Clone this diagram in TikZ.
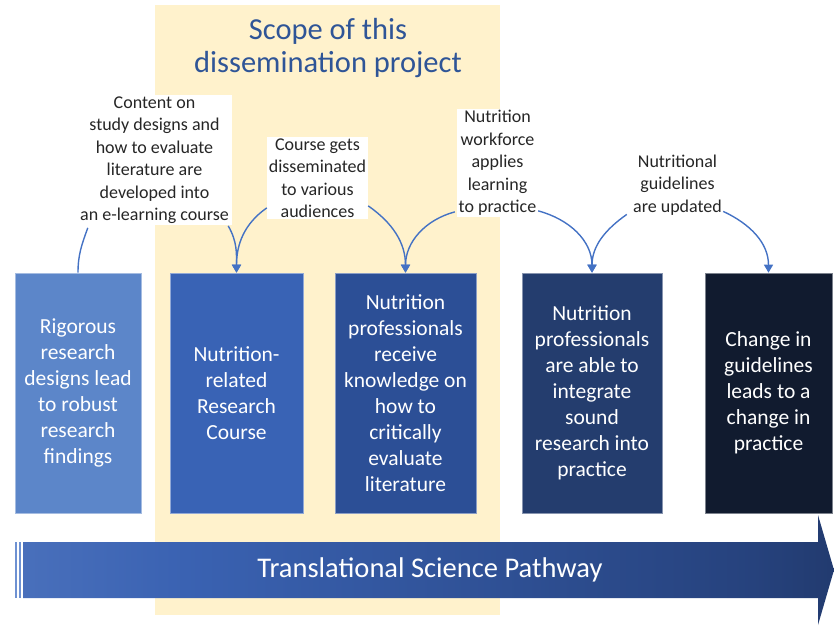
\documentclass[tikz,border=0pt]{standalone}
\usepackage{fontspec}
\setmainfont{Carlito}
\usetikzlibrary{arrows.meta}
\definecolor{scopey}{HTML}{FFF2CC}
\definecolor{titleblue}{HTML}{2F5597}
\definecolor{arrowblue}{HTML}{4472C4}
\definecolor{bA}{RGB}{92,134,201}
\definecolor{bB}{RGB}{57,99,181}
\definecolor{bC}{RGB}{44,79,150}
\definecolor{bD}{RGB}{36,61,110}
\definecolor{bE}{RGB}{17,27,47}
\definecolor{gA}{RGB}{110,145,210}
\definecolor{gB}{RGB}{58,98,178}
\definecolor{gC}{RGB}{38,66,125}
\definecolor{gD}{RGB}{14,23,42}
\pgfdeclarehorizontalshading{bannershade}{100bp}{color(0bp)=(gA); color(35bp)=(gB); color(70bp)=(gC); color(100bp)=(gD)}
\tikzset{
  stagebox/.style={minimum width=127pt, minimum height=240pt, inner sep=0pt, align=center, text=white,
    font=\fontsize{21.5}{26}\selectfont, line width=0.6pt},
  callout/.style={fill=white, align=center, inner sep=1pt, text=black!85,
    font=\fontsize{18}{22.5}\selectfont},
  link/.style={draw=arrowblue, line width=1.4pt},
  linkarrow/.style={link, -{Triangle[length=8pt,width=9pt]}}
}
\begin{document}
\begin{tikzpicture}[x=1pt,y=1pt]
\useasboundingbox (0,0) rectangle (834,-625);
% scope background
\fill[scopey] (155,-5) rectangle (500,-615);
\node[text=titleblue, align=center, font=\fontsize{30.5}{33}\selectfont] (title) at (328,-48) {Scope of this\\dissemination project};
% banner
\fill[gA] (15,-542) rectangle (17,-598);
\fill[gA] (19,-542) rectangle (21,-598);
\path[shading=bannershade] (23,-542) -- (818,-542) -- (818,-515) -- (834,-570) -- (818,-625) -- (818,-598) -- (23,-598) -- cycle;
\node[text=white, font=\fontsize{28.5}{32}\selectfont] (banner) at (430,-570) {Translational Science Pathway};
% boxes
\node[stagebox, fill=bA, draw=white!45!bA, minimum width=126pt] (b1) at (78,-393) {Rigorous\\research\\designs lead\\to robust\\research\\findings};
\node[stagebox, fill=bB, draw=white!45!bB, minimum width=133pt] (b2) at (236.5,-393) {Nutrition-\\related\\Research\\Course};
\node[stagebox, fill=bC, draw=white!45!bC, minimum width=141pt] (b3) at (405.5,-393) {Nutrition\\professionals\\receive\\knowledge on\\how to\\critically\\evaluate\\literature};
\node[stagebox, fill=bD, draw=white!45!bD, minimum width=140pt] (b4) at (592,-393) {Nutrition\\professionals\\are able to\\integrate\\sound\\research into\\practice};
\node[stagebox, fill=bE, draw=white!45!bE, minimum width=127pt] (b5) at (768.5,-393) {Change in\\guidelines\\leads to a\\change in\\practice};
% callouts
\node[callout, minimum width=155pt] (c1) at (154.5,-160) {Content on\\study designs and\\how to evaluate\\literature are\\developed into\\an e-learning course};
\node[callout, minimum width=101pt] (c2) at (317.5,-178) {Course gets\\disseminated\\to various\\audiences};
\node[callout, minimum width=81pt] (c3) at (497.5,-163) {Nutrition\\workforce\\applies\\learning\\to practice};
\node[callout, minimum width=95pt] (c4) at (677.5,-185) {Nutritional\\guidelines\\are updated};
% connectors
\draw[link] ([shift={(11,-3)}]c1.south west) to[out=-110, in=90] (b1.north);
\draw[linkarrow] ([shift={(-4,-1)}]c1.south east) to[out=-60, in=90] (b2.north);
\draw[linkarrow] ([shift={(0,11)}]c2.south west) to[out=215, in=90] (b2.north);
\draw[linkarrow] ([shift={(0,13)}]c2.south east) to[out=-35, in=90] (b3.north);
\draw[linkarrow] ([shift={(-2,5)}]c3.south west) to[out=195, in=90] (b3.north);
\draw[linkarrow] ([shift={(0,6)}]c3.south east) to[out=-15, in=90] (b4.north);
\draw[linkarrow] ([shift={(-3,2)}]c4.south west) to[out=215, in=90] (b4.north);
\draw[linkarrow] ([shift={(-2,5)}]c4.south east) to[out=-25, in=90] (b5.north);
\end{tikzpicture}
\end{document}
